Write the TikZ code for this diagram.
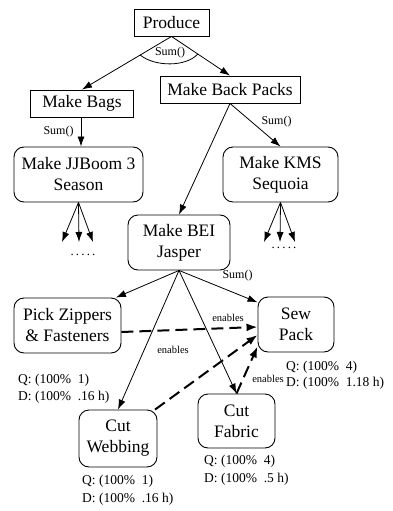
\documentclass[tikz,border=0pt]{standalone}
\usepackage{fontspec}
\setmainfont{Liberation Serif}
\usetikzlibrary{arrows.meta,calc}

\begin{document}
\begin{tikzpicture}[x=1pt,y=-1pt,
  every node/.style={font=\fontsize{17.5}{21}\selectfont, inner sep=0pt},
  plainbox/.style={draw, line width=0.9pt, minimum height=27pt, align=center},
  taskbox/.style={draw, line width=0.9pt, rounded corners=10pt, minimum height=55pt, align=center},
  flow/.style={line width=0.8pt, -{Latex[length=10pt,width=7pt]}},
  enab/.style={line width=2pt, dash pattern=on 12pt off 6pt, -{Latex[length=11pt,width=8pt]}},
  sumlbl/.style={font=\fontsize{12}{14}\selectfont},
  enlbl/.style={font=\fontsize{10.5}{12}\selectfont},
  qd/.style={font=\fontsize{13.5}{16}\selectfont, anchor=west},
  dots/.style={font=\fontsize{13}{14}\selectfont},
]
\useasboundingbox (0,0) rectangle (393,511);

% task tree
\node[plainbox, minimum width=75pt]  (produce)   at (171.5,22.5) {Produce};
\node[plainbox, minimum width=140pt] (backpacks) at (230,89.5)   {Make Back Packs};
\node[plainbox, minimum width=103pt] (bags)      at (82,103.5)   {Make Bags};
\node[taskbox, minimum width=129pt]  (jjboom)    at (78.5,174.5) {Make JJBoom 3\\Season};
\node[taskbox, minimum width=115pt]  (kms)       at (280.5,174.5) {Make KMS\\Sequoia};
\node[taskbox, minimum width=102pt]  (bei)       at (179,242.5)  {Make BEI\\Jasper};
\node[taskbox, minimum width=107pt]  (pick)      at (67.5,325.5) {Pick Zippers\\\& Fasteners};
\node[taskbox, minimum width=76pt]   (sew)       at (296,324.5)  {Sew\\Pack};
\node[taskbox, minimum width=78pt, minimum height=57pt] (webbing) at (118,438.5) {Cut\\Webbing};
\node[taskbox, minimum width=77pt, minimum height=54pt] (fabric)  at (236.5,421) {Cut\\Fabric};

% decomposition arrows
\draw[flow] (produce.south) -- (bags.north);
\draw[flow] (produce.south) -- (backpacks.north);
\draw[flow] ($(bags.south)+(-1,0)$) -- ($(bags.south |- jjboom.north)+(-1,0)$);
\draw[flow] (backpacks.south) -- (kms.north);
\draw[flow] (backpacks.south) -- (bei.north);
\draw[flow] (bei.south) -- (pick.30);
\draw[flow] (bei.south) -- (sew.150);
\draw[flow] (bei.south) -- (fabric.north);
\draw[flow] (bei.south) -- (webbing.north);

% quality accumulation arc
\draw[line width=0.8pt] ($(produce.south)!0.35!(bags.north)$)
  .. controls (155,67) and (186,67) .. ($(produce.south)!0.45!(backpacks.north)$);

% elided subtasks
\coordinate (j1) at (62,242);
\coordinate (j2) at (79,242);
\coordinate (j3) at (93,242);
\coordinate (k1) at (264,242);
\coordinate (k2) at (280,242);
\coordinate (k3) at (295,242);
\foreach \c in {j1,j2,j3} \draw[flow] (jjboom.south) -- (\c);
\foreach \c in {k1,k2,k3} \draw[flow] (kms.south) -- (\c);
\node[dots] (jdots) at (83,255) {.\,.\,.\,.\,.};
\node[dots] (kdots) at (284,248) {.\,.\,.\,.\,.};

% enablement relations
\draw[enab] ($(pick.east)+(0,6.5)$) -- ($(sew.west)+(0,2.5)$);
\draw[enab] (webbing.38) -- ($(sew.west)+(0,10.5)$);
\draw[enab] (fabric.north) -- ($(sew.west)+(0,22)$);

% labels
\node[sumlbl] (s1) at (170,52.5) {Sum()};
\node[sumlbl] (s2) at (58.5,131.5) {Sum()};
\node[sumlbl] (s3) at (276.5,122) {Sum()};
\node[sumlbl] (s4) at (237.5,276) {Sum()};
\node[enlbl] (e1) at (228,318) {enables};
\node[enlbl] (e2) at (173,350) {enables};
\node[enlbl] (e3) at (268,379) {enables};

% quality and duration annotations
\node[qd] (pq) at (18,380)  {Q: (100\%~~1)};
\node[qd] (pd) at (18,397)  {D: (100\%~~.16 h)};
\node[qd] (sq) at (286,367) {Q: (100\%~~4)};
\node[qd] (sd) at (286,383) {D: (100\%~~1.18 h)};
\node[qd] (fq) at (204,461) {Q: (100\%~~4)};
\node[qd] (fd) at (204,479) {D: (100\%~~.5 h)};
\node[qd] (wq) at (82,481)  {Q: (100\%~~1)};
\node[qd] (wd) at (82,499)  {D: (100\%~~.16 h)};
\end{tikzpicture}
\end{document}
